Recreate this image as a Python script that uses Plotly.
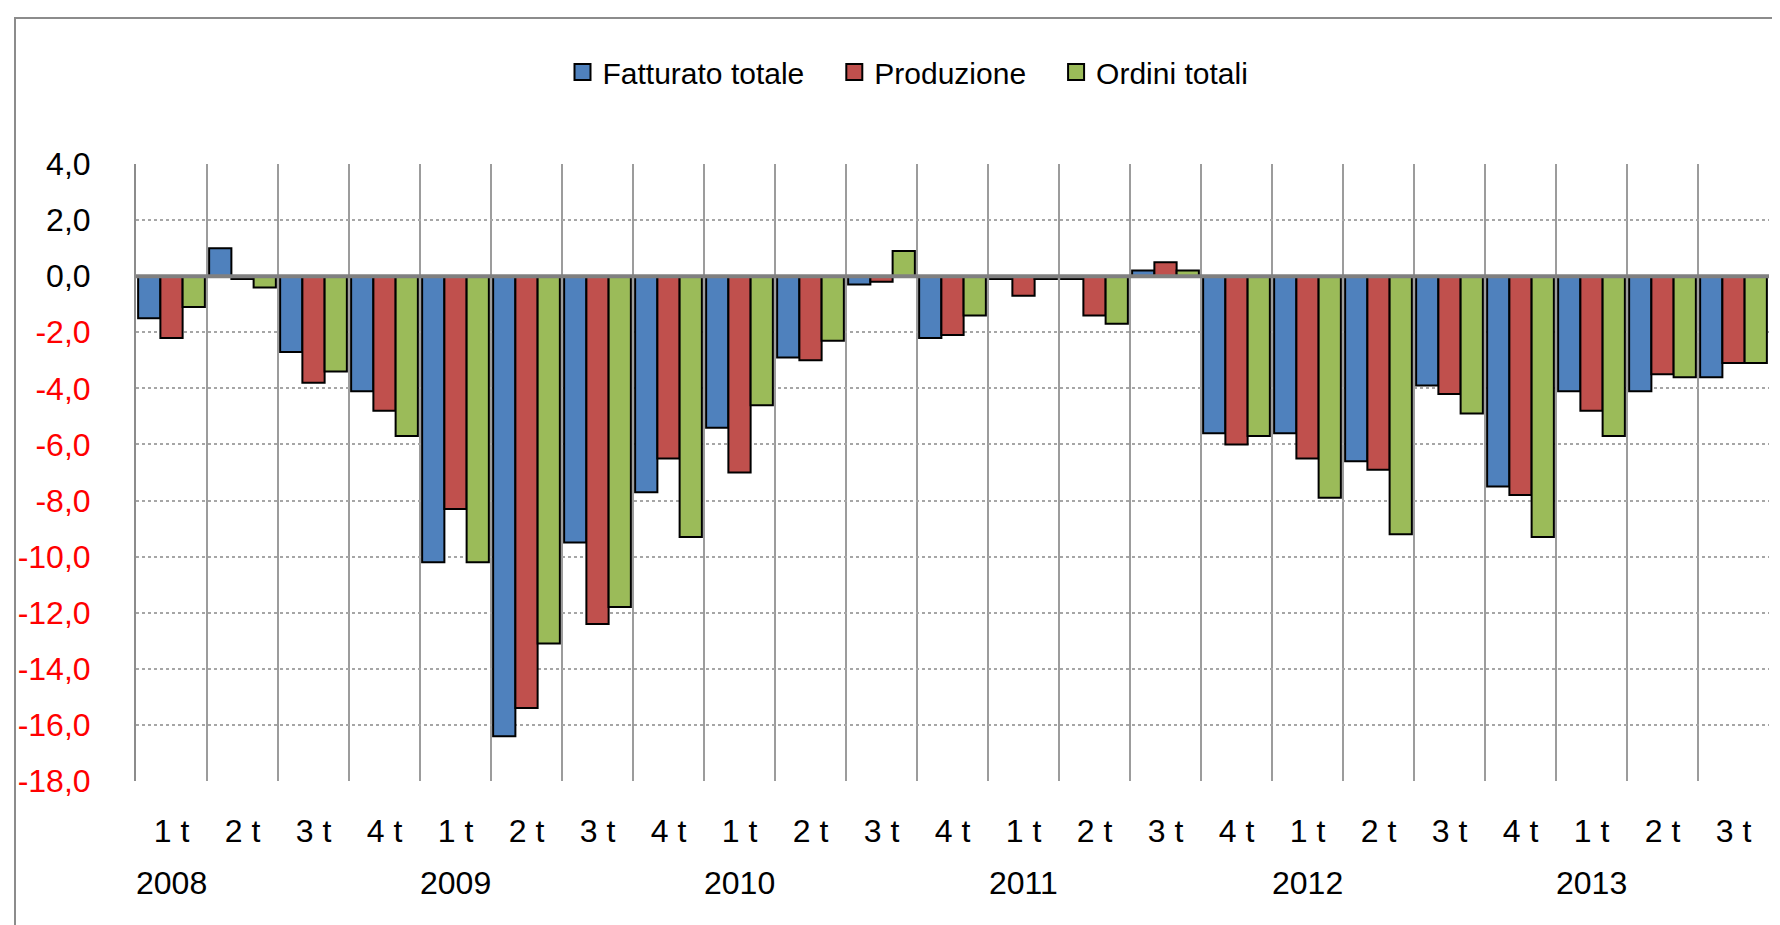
import plotly.graph_objects as go

# ---------------- data ----------------
quarters = ["1 t", "2 t", "3 t", "4 t",
            "1 t", "2 t", "3 t", "4 t",
            "1 t", "2 t", "3 t", "4 t",
            "1 t", "2 t", "3 t", "4 t",
            "1 t", "2 t", "3 t", "4 t",
            "1 t", "2 t", "3 t"]
years = ["2008"] * 4 + ["2009"] * 4 + ["2010"] * 4 + ["2011"] * 4 + ["2012"] * 4 + ["2013"] * 3

fatturato = [-1.5, 1.0, -2.7, -4.1, -10.2, -16.4, -9.5, -7.7, -5.4, -2.9, -0.3, -2.2,
             -0.1, -0.1, 0.2, -5.6, -5.6, -6.6, -3.9, -7.5, -4.1, -4.1, -3.6]
produzione = [-2.2, -0.1, -3.8, -4.8, -8.3, -15.4, -12.4, -6.5, -7.0, -3.0, -0.2, -2.1,
              -0.7, -1.4, 0.5, -6.0, -6.5, -6.9, -4.2, -7.8, -4.8, -3.5, -3.1]
ordini = [-1.1, -0.4, -3.4, -5.7, -10.2, -13.1, -11.8, -9.3, -4.6, -2.3, 0.9, -1.4,
          -0.1, -1.7, 0.2, -5.7, -7.9, -9.2, -4.9, -9.3, -5.7, -3.6, -3.1]

series_names = ["Fatturato totale", "Produzione", "Ordini totali"]
series_colors = ["#4F81BD", "#C0504D", "#9BBB59"]
y_ticks = list(range(-18, 5, 2))

# ---------------- figure ----------------
cats = [f"{y} {q}" for y, q in zip(years, quarters)]
FONT = "Liberation Sans, Arial, sans-serif"

fig = go.Figure()
for name, vals, col in zip(series_names, [fatturato, produzione, ordini], series_colors):
    fig.add_trace(go.Bar(
        x=cats, y=vals, name=name, showlegend=False,
        marker=dict(color=col, line=dict(color="black", width=2)),
    ))

# legend entries (square swatches with black border)
for i, (name, col) in enumerate(zip(series_names, series_colors)):
    label = name + ("\u00a0\u00a0\u00a0" if i < len(series_names) - 1 else "")
    fig.add_trace(go.Scatter(
        x=[None], y=[None], mode="markers", name=label, showlegend=True,
        marker=dict(symbol="square", size=16, color=col, line=dict(color="black", width=2)),
    ))

def fmt(v):
    s = f"{v:.1f}".replace(".", ",")
    if v < 0:
        return f"<span style='color:#FF0000'>{s}</span>"
    return s

W, H = 1780, 925
L, R, T, B = 128, 19, 156, 152
pw, ph = W - L - R, H - T - B

def px_x(x):
    return (x - L) / pw

def px_y(y):
    return (H - B - y) / ph

fig.update_layout(
    width=W, height=H,
    margin=dict(l=L, r=R, t=T, b=B, autoexpand=False),
    paper_bgcolor="white", plot_bgcolor="white",
    barmode="group", bargap=0.06, bargroupgap=0,
    font=dict(family=FONT, color="black"),
    showlegend=True,
    legend=dict(
        orientation="h", x=px_x(900), xanchor="center", y=px_y(64), yanchor="middle",
        font=dict(family=FONT, size=30),
        bgcolor="rgba(0,0,0,0)", itemsizing="trace", traceorder="normal",
    ),
    xaxis=dict(
        type="category", categoryorder="array", categoryarray=cats,
        tickmode="array", tickvals=cats, ticktext=quarters,
        tickson="boundaries", showgrid=True, gridcolor="#9C9C9C", gridwidth=2,
        ticks="", showline=False, zeroline=False, automargin=False,
        tickfont=dict(family=FONT, size=32),
        ticklabelstandoff=28, range=[-0.5, len(cats) - 0.5],
    ),
    yaxis=dict(
        range=[-18, 4], tickmode="array", tickvals=y_ticks,
        ticktext=[fmt(v) for v in y_ticks],
        showgrid=True, gridcolor="#A6A6A6", gridwidth=2, griddash="dot",
        zeroline=False, showline=True, linecolor="#8C8C8C", linewidth=2,
        ticks="", automargin=False, ticklabelstandoff=37,
        tickfont=dict(family=FONT, size=32),
    ),
)

# year labels under the first quarter of each year
seen = set()
for c, y in zip(cats, years):
    if y not in seen:
        seen.add(y)
        fig.add_annotation(
            x=c, xref="x", y=0, yref="paper", yanchor="middle", xanchor="center",
            yshift=-102, text=y, showarrow=False,
            font=dict(family=FONT, size=32, color="black"),
        )

# zero axis line (drawn above bars)
fig.add_shape(type="line", xref="paper", x0=0, x1=1, yref="y", y0=0, y1=0,
              line=dict(color="#808080", width=4), layer="above")

# outer chart border
fig.add_shape(type="rect", xref="paper", yref="paper",
              x0=px_x(7), x1=px_x(1795), y0=px_y(922), y1=px_y(10),
              line=dict(color="#8C8C8C", width=2), fillcolor="rgba(0,0,0,0)", layer="below")

fig.write_html("out.html")
